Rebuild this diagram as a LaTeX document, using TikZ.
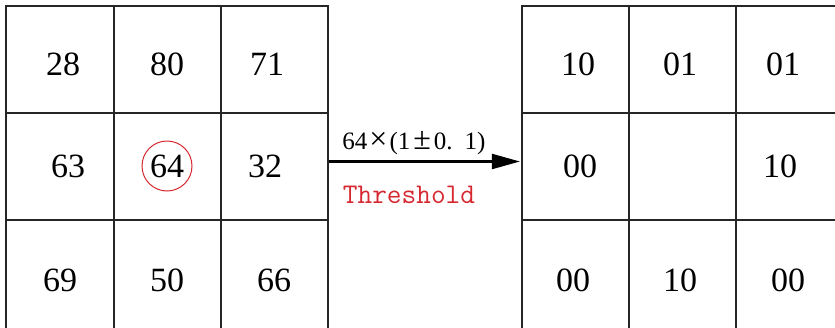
\documentclass[tikz,border=0pt]{standalone}
\usepackage{fontspec}
\setmainfont{Liberation Serif}
\usetikzlibrary{arrows.meta,calc}
\definecolor{thr}{RGB}{214,40,48}
\begin{document}
\begin{tikzpicture}[x=1pt,y=-1pt,
  cell/.style={draw=black!85,line width=2.2pt,rectangle,inner sep=0pt,minimum width=#1},
  cell/.default=107pt,
  num/.style={font=\fontsize{34}{34}\selectfont,inner sep=0pt},
  conn/.style={draw=black,line width=2.2pt,-{Triangle[length=28pt,width=15pt]}},
  lab/.style={font=\fontsize{25}{25}\selectfont,inner sep=0pt}]
\useasboundingbox (0,0) rectangle (835,327);
\clip (0,0) rectangle (835,327);
% left grid
\foreach \r/\yc/\h in {1/59.5/107,2/166.5/107,3/277/114}{
  \node[cell=108pt,minimum height=\h pt] (L\r1) at (60,\yc) {};
  \node[cell,minimum height=\h pt] (L\r2) at (167.5,\yc) {};
  \node[cell,minimum height=\h pt] (L\r3) at (274.5,\yc) {};
}
% right grid
\foreach \r/\yc/\h in {1/59.5/107,2/166.5/107,3/277/114}{
  \node[cell,minimum height=\h pt] (R\r1) at (575.5,\yc) {};
  \node[cell,minimum height=\h pt] (R\r2) at (682.5,\yc) {};
  \node[cell,minimum height=\h pt] (R\r3) at (789.5,\yc) {};
}
% left numbers
\node[num] (a11) at (63,64) {28};
\node[num] (a12) at (167,64) {80};
\node[num] (a13) at (267,64) {71};
\node[num] (a21) at (68,166) {63};
\node[num] (a22) at (167,166) {64};
\node[num] (a23) at (265,166) {32};
\node[num] (a31) at (60,280) {69};
\node[num] (a32) at (167,280) {50};
\node[num] (a33) at (274,280) {66};
\draw[thr,line width=1pt] (a22.center) circle (25pt);
% right numbers
\node[num] (b11) at (578,64) {10};
\node[num] (b12) at (680,64) {01};
\node[num] (b13) at (783,64) {01};
\node[num] (b21) at (580,166) {00};
\node[num] (b23) at (780,166) {10};
\node[num] (b31) at (573,280) {00};
\node[num] (b32) at (680,280) {10};
\node[num] (b33) at (788,280) {00};
% arrow
\coordinate (s) at ($(L23.east)+(0,-5)$);
\coordinate (e) at ($(R21.west)+(-1,-5)$);
\draw[conn] (s) -- (e);
\node[lab,anchor=base] (f) at (414,149) {64\kern2pt{\fontsize{32}{32}\selectfont×}\kern2pt(1\kern3pt{\fontsize{32}{32}\selectfont±}\kern3pt0.\kern12pt1)};
\node[thr,font=\ttfamily\fontsize{28.5}{28.5}\selectfont,inner sep=0pt] (t) at (409,195) {Threshold};
\end{tikzpicture}
\end{document}
